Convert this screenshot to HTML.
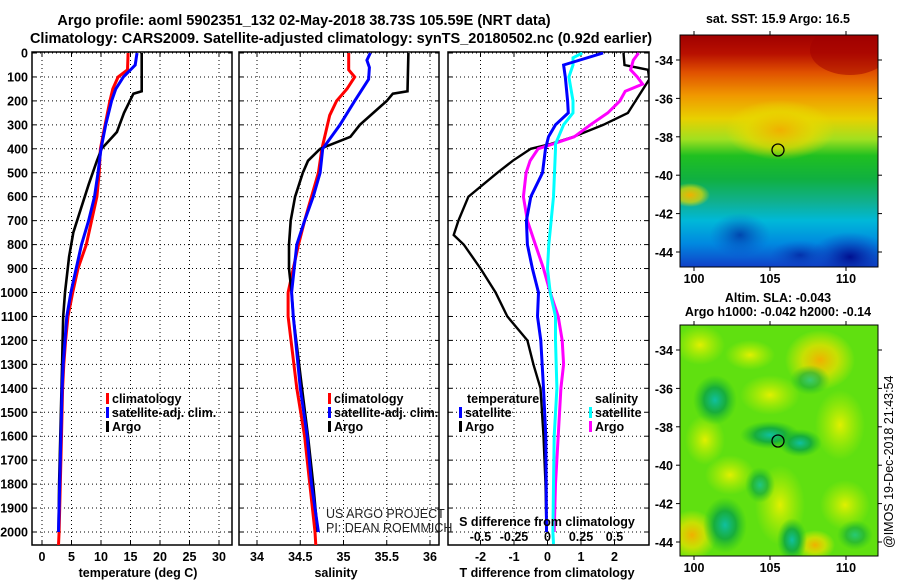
<!DOCTYPE html>
<html><head><meta charset="utf-8"><style>
html,body{margin:0;padding:0;background:#fff;}
svg{display:block;font-family:"Liberation Sans",sans-serif;}
.b{font-weight:bold;font-size:14.5px;}
.t{font-weight:bold;font-size:12.5px;}
</style></head><body>
<svg id="chart" width="900" height="580" viewBox="0 0 900 580">
<defs>
<linearGradient id="sstg" x1="0" y1="0" x2="0" y2="1">
<stop offset="0" stop-color="#a00000"/><stop offset="0.08" stop-color="#b81000"/>
<stop offset="0.16" stop-color="#e05000"/><stop offset="0.26" stop-color="#f09800"/>
<stop offset="0.36" stop-color="#e8d000"/><stop offset="0.45" stop-color="#a0e020"/>
<stop offset="0.52" stop-color="#20c020"/><stop offset="0.62" stop-color="#10b040"/>
<stop offset="0.72" stop-color="#10b090"/><stop offset="0.8" stop-color="#00b8d8"/>
<stop offset="0.9" stop-color="#0088e0"/><stop offset="1" stop-color="#1040c8"/>
</linearGradient>
<radialGradient id="ylw"><stop offset="0" stop-color="#f0b000"/><stop offset="0.6" stop-color="#e8d800" stop-opacity="0.7"/><stop offset="1" stop-color="#e8e000" stop-opacity="0"/></radialGradient>
<radialGradient id="dkb"><stop offset="0" stop-color="#001090"/><stop offset="1" stop-color="#1040c0" stop-opacity="0"/></radialGradient>
<radialGradient id="teal"><stop offset="0" stop-color="#10c0a0"/><stop offset="0.5" stop-color="#10a840" stop-opacity="0.9"/><stop offset="1" stop-color="#20c020" stop-opacity="0"/></radialGradient>
<radialGradient id="yl2"><stop offset="0" stop-color="#e0f000"/><stop offset="1" stop-color="#c0f000" stop-opacity="0"/></radialGradient>
<radialGradient id="or2"><stop offset="0" stop-color="#f0b000"/><stop offset="0.5" stop-color="#e0e000" stop-opacity="0.8"/><stop offset="1" stop-color="#e0f000" stop-opacity="0"/></radialGradient>
</defs>
<g id="titles">
<text x="304" y="25" text-anchor="middle" class="b">Argo profile: aoml 5902351_132 02-May-2018 38.73S 105.59E (NRT data)</text>
<text x="341" y="43" text-anchor="middle" class="b">Climatology: CARS2009. Satellite-adjusted climatology: synTS_20180502.nc (0.92d earlier)</text>
</g>
<g id="plots"></g>
<g id="maps">
<text x="778" y="23" text-anchor="middle" class="t">sat. SST: 15.9 Argo: 16.5</text>
<svg x="680" y="35" width="198" height="232">
<rect width="198" height="232" fill="url(#sstg)"/>
<ellipse cx="100" cy="95" rx="55" ry="30" fill="url(#ylw)"/>
<ellipse cx="10" cy="160" rx="20" ry="12" fill="url(#ylw)"/>
<ellipse cx="170" cy="222" rx="40" ry="25" fill="url(#dkb)"/>
<ellipse cx="60" cy="200" rx="30" ry="22" fill="url(#dkb)" opacity="0.6"/>
<ellipse cx="120" cy="220" rx="30" ry="15" fill="url(#dkb)" opacity="0.6"/>
<ellipse cx="170" cy="15" rx="40" ry="25" fill="#a00000" opacity="0.5"/>
</svg>
<rect x="680" y="35" width="198" height="232" fill="none" stroke="#000"/>
<circle cx="778" cy="150" r="6" fill="none" stroke="#000" stroke-width="1.3"/>
<text x="778" y="302" text-anchor="middle" class="t">Altim. SLA: -0.043</text>
<text x="778" y="316" text-anchor="middle" class="t">Argo h1000: -0.042 h2000: -0.14</text>
<svg x="680" y="325" width="198" height="231">
<rect width="198" height="231" fill="#60e010"/>
<ellipse cx="140" cy="35" rx="35" ry="30" fill="url(#or2)"/>
<ellipse cx="20" cy="20" rx="25" ry="20" fill="url(#yl2)"/>
<ellipse cx="90" cy="70" rx="30" ry="20" fill="url(#yl2)"/>
<ellipse cx="70" cy="30" rx="25" ry="15" fill="url(#yl2)"/>
<ellipse cx="160" cy="100" rx="25" ry="35" fill="url(#yl2)"/>
<ellipse cx="25" cy="115" rx="20" ry="25" fill="url(#yl2)"/>
<ellipse cx="100" cy="180" rx="25" ry="40" fill="url(#yl2)"/>
<ellipse cx="50" cy="150" rx="25" ry="20" fill="url(#yl2)"/>
<ellipse cx="12" cy="210" rx="25" ry="25" fill="url(#or2)"/>
<ellipse cx="135" cy="220" rx="20" ry="15" fill="url(#or2)"/>
<ellipse cx="165" cy="180" rx="25" ry="25" fill="url(#yl2)"/>
<ellipse cx="35" cy="75" rx="22" ry="25" fill="url(#teal)"/>
<ellipse cx="90" cy="110" rx="30" ry="14" fill="url(#teal)"/>
<ellipse cx="120" cy="118" rx="22" ry="14" fill="url(#teal)"/>
<ellipse cx="130" cy="55" rx="20" ry="15" fill="url(#teal)" opacity="0.7"/>
<ellipse cx="45" cy="200" rx="22" ry="28" fill="url(#teal)"/>
<ellipse cx="112" cy="215" rx="15" ry="22" fill="url(#teal)"/>
<ellipse cx="80" cy="160" rx="15" ry="18" fill="url(#teal)" opacity="0.8"/>
<ellipse cx="175" cy="210" rx="18" ry="15" fill="url(#teal)" opacity="0.7"/>
</svg>
<rect x="680" y="325" width="198" height="231" fill="none" stroke="#000"/>
<circle cx="778" cy="441" r="6" fill="none" stroke="#000" stroke-width="1.3"/>
<text transform="translate(893,548) rotate(-90)" font-size="12.5">@IMOS 19-Dec-2018 21:43:54</text>
<text x="326" y="518" font-size="12.5" fill="#222">US ARGO PROJECT</text>
<text x="326" y="532" font-size="12.5" fill="#222">PI: DEAN ROEMMICH</text>
</g>
</svg>
<script>
// ---- data ----
const depthTicks=[0,100,200,300,400,500,600,700,800,900,1000,1100,1200,1300,1400,1500,1600,1700,1800,1900,2000];
const tempTicks=[0,5,10,15,20,25,30];
const salTicks=[34,34.5,35,35.5,36];
const tdiffTicks=[-2,-1,0,1,2];
const sdiffTicks=[-0.5,-0.25,0,0.25,0.5];
const sdiffTickLabels=["-0.5","-0.25","0","0.25","0.5"];
const salTickLabels=["34","34.5","35","35.5","36"];

const tClimDepth=[0,70,100,150,200,300,400,500,600,700,800,900,1000,1100,1200,1300,1400,1600,1800,2000,2055];
const tClim=[14.6,14.5,12.9,12.0,11.5,10.7,9.9,9.7,9.3,8.4,7.5,6.1,5.2,4.4,4.0,3.7,3.5,3.3,3.1,2.9,2.8];
const tSatDepth=[0,50,100,150,200,300,400,500,600,700,800,900,1000,1100,1200,1300,1400,1600,1800,2000];
const tSat=[16.1,15.8,13.8,12.5,11.8,10.8,10.0,9.5,8.9,7.9,6.7,5.8,4.9,4.2,3.9,3.6,3.4,3.2,3.0,2.8];
const tArgoDepth=[0,160,170,250,330,400,450,550,650,750,850,1000,1100,1200,1300,1400,1600,1800,2000];
const tArgo=[16.9,16.9,15.5,13.9,12.7,10.1,9.3,7.9,6.6,5.3,4.6,3.9,3.6,3.5,3.4,3.3,3.1,2.9,2.8];

const sClimDepth=[0,70,100,150,200,260,400,500,600,700,800,900,1000,1100,1400,1600,1800,2000,2055];
const sClim=[35.06,35.06,35.13,35.04,34.92,34.84,34.75,34.71,34.63,34.55,34.48,34.42,34.36,34.36,34.46,34.55,34.61,34.67,34.68];
const sSatDepth=[0,30,60,110,200,300,400,500,600,700,800,900,1000,1100,1400,1600,1800,2000];
const sSat=[35.31,35.27,35.30,35.29,35.13,34.96,34.76,34.73,34.65,34.55,34.46,34.43,34.40,34.42,34.50,34.58,34.63,34.71];
const sArgoDepth=[0,160,170,200,300,350,400,450,500,600,700,800,900,1000,1100,1400,1600,1800,2000];
const sArgo=[35.75,35.74,35.57,35.50,35.19,35.08,34.73,34.59,34.53,34.44,34.39,34.37,34.37,34.40,34.42,34.52,34.59,34.65,34.70];

const dTSatDepth=[0,50,100,200,250,300,350,400,500,600,700,800,900,1000,1100,1200,1400,1600,1800,2000];
const dTSat=[1.66,0.48,0.53,0.60,0.62,0.24,0.03,-0.06,-0.15,-0.50,-0.63,-0.60,-0.45,-0.27,-0.30,-0.20,-0.12,-0.05,-0.04,-0.03];
const dTArgoDepth=[0,50,70,110,250,300,350,380,400,450,500,600,700,760,800,900,1000,1100,1200,1300,1400,1600,1800,2000];
const dTArgo=[2.27,2.3,3.0,3.04,2.4,1.67,0.78,0.09,-0.5,-1.04,-1.5,-2.36,-2.66,-2.8,-2.5,-2.0,-1.55,-1.2,-0.6,-0.42,-0.21,-0.12,-0.06,-0.03];
const dSSatDepth=[0,20,50,100,200,250,300,380,400,600,800,900,1000,1100,1200,1400,1600,1800,2000,2050];
const dSSat=[0.26,0.19,0.19,0.16,0.19,0.19,0.12,0.06,0.06,0.045,0.01,0.0,0.02,0.06,0.06,0.07,0.05,0.045,0.04,0.045];
const dSArgoDepth=[0,30,70,100,130,160,200,250,300,350,380,400,450,500,600,700,800,900,1000,1100,1200,1300,1400,1600,1800,2000];
const dSArgo=[0.68,0.64,0.62,0.67,0.71,0.58,0.54,0.45,0.32,0.20,0.04,-0.07,-0.13,-0.16,-0.18,-0.15,-0.09,-0.03,0.02,0.08,0.11,0.12,0.10,0.08,0.06,0.05];

const mapLatTicks=[-34,-36,-38,-40,-42,-44];
const mapLonTicks=[100,105,110];

// ---- axes ----
const NS='http://www.w3.org/2000/svg';
const root=document.getElementById('plots');
const top0=52, bot0=545;
const yD=d=>53+d*0.2395;
function lin(d0,d1,r0,r1){return v=>r0+(v-d0)/(d1-d0)*(r1-r0);}
const xT=lin(0,30,42,219);
const xS=lin(34,36,257,430);
const xDT=lin(-2,2,480.5,614.5);
const xDS=lin(-0.5,0.5,480.5,614.5);
function el(tag,attrs,parent){const e=document.createElementNS(NS,tag);for(const k in attrs)e.setAttribute(k,attrs[k]);(parent||root).appendChild(e);return e;}
function txt(x,y,s,anchor,cls,parent){const t=el('text',{x:x,y:y,'text-anchor':anchor||'middle','class':cls||'t'},parent);t.textContent=s;return t;}

function panel(name,x0,x1,xs,xticks,xlabels,showDepth){
  const g=el('g',{});
  
  
  depthTicks.forEach(d=>{const y=yD(d);
    const l=el('line',{x1:x0,x2:x1,y1:y,y2:y,stroke:'#000','stroke-width':1,'stroke-dasharray':'1,3'},g);
    
    
    el('line',{x1:x0,x2:x0+4,y1:y,y2:y,stroke:'#000'},g);el('line',{x1:x1-4,x2:x1,y1:y,y2:y,stroke:'#000'},g);
    if(showDepth){const t=txt(28,y+4.5,String(d),'end','t',g);
      
      }
  });
  xticks.forEach((v,i)=>{const x=xs(v);
    const l=el('line',{x1:x,x2:x,y1:top0,y2:bot0,stroke:'#000','stroke-width':1,'stroke-dasharray':'1,3'},g);
    
    
    el('line',{x1:x,x2:x,y1:bot0-4,y2:bot0,stroke:'#000'},g);el('line',{x1:x,x2:x,y1:top0,y2:top0+4,stroke:'#000'},g);
    if(xlabels){const t=txt(x,561,xlabels[i],'middle','t',g);
      
      }
  });
  el('rect',{x:x0,y:top0,width:x1-x0,height:bot0-top0,fill:'none',stroke:'#000','stroke-width':1.5},g);
  return g;
}
function series(g,xs,depths,vals,color,w,name,x0,x1){
  const pts=depths.map((d,i)=>xs(vals[i]).toFixed(1)+','+yD(d).toFixed(1)).join(' ');
  const cid='c'+name;
  const cp=el('clipPath',{id:cid},g);el('rect',{x:x0,y:top0,width:x1-x0,height:bot0-top0},cp);
  const p=el('polyline',{points:pts,fill:'none',stroke:color,'stroke-width':w,'stroke-linejoin':'miter','clip-path':'url(#'+cid+')'},g);
  
  
}
function legend(g,x,y,color,label){
  el('rect',{x:x,y:y-10,width:3,height:11,fill:color},g);
  const t=txt(x+6,y,label,'start','t',g);
  
  
}

// panel 1: temperature
const g1=panel('temperature',32,232,xT,tempTicks,tempTicks.map(String),true);
series(g1,xT,tClimDepth,tClim,'#f00',3,'temp-climatology',32,232);
series(g1,xT,tArgoDepth,tArgo,'#000',2.6,'temp-argo',32,232);
series(g1,xT,tSatDepth,tSat,'#00f',3,'temp-satellite',32,232);
legend(g1,106,403,'#f00','climatology');
legend(g1,106,417,'#00f','satellite-adj. clim.');
legend(g1,106,431,'#000','Argo');
{const t=txt(138,577,'temperature (deg C)','middle','t',g1);}

// panel 2: salinity
const g2=panel('salinity',239,439,xS,salTicks,salTickLabels,false);
series(g2,xS,sClimDepth,sClim,'#f00',3,'sal-climatology',239,439);
series(g2,xS,sArgoDepth,sArgo,'#000',2.6,'sal-argo',239,439);
series(g2,xS,sSatDepth,sSat,'#00f',3,'sal-satellite',239,439);
legend(g2,328,403,'#f00','climatology');
legend(g2,328,417,'#00f','satellite-adj. clim.');
legend(g2,328,431,'#000','Argo');
{const t=txt(336,577,'salinity','middle','t',g2);}

// panel 3: differences
const g3=panel('difference',448,649,xDT,tdiffTicks,tdiffTicks.map(String),false);
series(g3,xDT,dTArgoDepth,dTArgo,'#000',2.4,'tdiff-argo',448,649);
series(g3,xDS,dSArgoDepth,dSArgo,'#f0f',3,'sdiff-argo',448,649);
series(g3,xDS,dSSatDepth,dSSat,'#0ff',3,'sdiff-satellite',448,649);
series(g3,xDT,dTSatDepth,dTSat,'#00f',3,'tdiff-satellite',448,649);
{const t=txt(467,403,'temperature','start','t',g3);}
legend(g3,459,417,'#00f','satellite');
legend(g3,459,431,'#000','Argo');
{const t=txt(595,403,'salinity','start','t',g3);}
legend(g3,589,417,'#0ff','satellite');
legend(g3,589,431,'#f0f','Argo');
{const t=txt(547,526,'S difference from climatology','middle','t',g3);}
sdiffTicks.forEach((v,i)=>{const t=txt(xDS(v),541,sdiffTickLabels[i],'middle','t',g3);
  
  });
{const t=txt(547,577,'T difference from climatology','middle','t',g3);}

// map axes
const mg=document.getElementById('maps');
function mapAxes(top,bot,latY0,latY1){
  const yl=lin(-34,-44,latY0,latY1), xl=lin(100,110,694,846);
  mapLatTicks.forEach(v=>{const y=yl(v);
    el('line',{x1:676,x2:680,y1:y,y2:y,stroke:'#000'},mg);el('line',{x1:878,x2:882,y1:y,y2:y,stroke:'#000'},mg);
    const t=txt(673,y+5,String(v),'end','t',mg);
    
    });
  mapLonTicks.forEach(v=>{const x=xl(v);
    el('line',{x1:x,x2:x,y1:bot,y2:bot+4,stroke:'#000'},mg);el('line',{x1:x,x2:x,y1:top-4,y2:top,stroke:'#000'},mg);
    const t=txt(x,bot+16,String(v),'middle','t',mg);
    
    });
}
mapAxes(35,267,60,252);
mapAxes(325,556,350,542);
</script>
</body></html>
